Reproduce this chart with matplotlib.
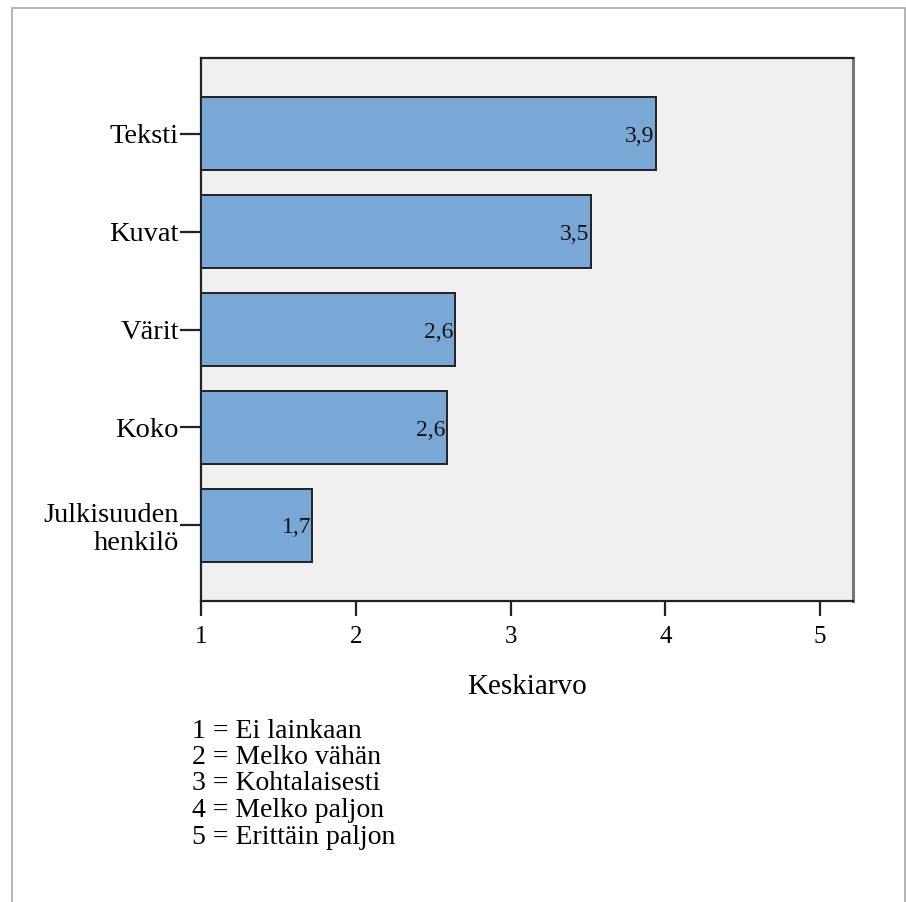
import matplotlib
matplotlib.use("Agg")
import matplotlib.pyplot as plt
from matplotlib.patches import Rectangle

categories = ["Teksti", "Kuvat", "Värit", "Koko", "Julkisuuden\nhenkilö"]
means = [3.94, 3.52, 2.64, 2.59, 1.72]
xticks = [1, 2, 3, 4, 5]
scale_notes = ["1 = Ei lainkaan", "2 = Melko vähän", "3 = Kohtalaisesti",
               "4 = Melko paljon", "5 = Erittäin paljon"]

plt.rcParams['font.family'] = ['Liberation Serif', 'DejaVu Serif']

W, H = 906, 902
fig = plt.figure(figsize=(W / 100, H / 100), dpi=100)
fig.patch.set_facecolor('white')

# outer frame of the output viewer
fig.patches.append(Rectangle((12 / W, -0.05), (905 - 12) / W, 1.05 - 8 / H,
                             transform=fig.transFigure, fill=False,
                             edgecolor='#a8a8a8', linewidth=1.2))

ax = fig.add_axes([201 / W, 1 - 601 / H, (853 - 201) / W, (601 - 58) / H])
ax.set_facecolor('#f0f0f0')

ypos = list(range(len(categories)))
ax.barh(ypos, [m - 1 for m in means], left=1, height=0.745,
        color='#79a8d6', edgecolor='#222222', linewidth=1.4, zorder=3)

for y, m in zip(ypos, means):
    ax.annotate(f"{m:.1f}".replace('.', ','), (m, y), xytext=(-1, -2),
                textcoords='offset points', ha='right', va='center',
                fontsize=17, color='#111111', zorder=4)

ax.set_xlim(1, 5.213)
ax.set_ylim(len(categories) - 0.225, -0.775)
ax.set_xticks(xticks)
ax.set_xticklabels([str(t) for t in xticks], fontsize=18)
ax.set_yticks(ypos)
ax.set_yticklabels(categories, fontsize=20.5, linespacing=1.15)
ax.tick_params(axis='y', length=15, width=1.6, pad=1, color='#222222')
ax.tick_params(axis='x', length=11, width=1.6, pad=7, color='#222222')

for s in ['left', 'bottom', 'top']:
    ax.spines[s].set_color('#222222')
    ax.spines[s].set_linewidth(1.6)
ax.spines['right'].set_color('#777777')
ax.spines['right'].set_linewidth(2.2)

ax.set_xlabel("Keskiarvo", fontsize=21, labelpad=19)

for i, note in enumerate(scale_notes):
    fig.text(192 / W, 1 - (731 + 26.5 * i) / H, note, fontsize=20,
             ha='left', va='center')

fig.savefig("out.png", dpi=100)
